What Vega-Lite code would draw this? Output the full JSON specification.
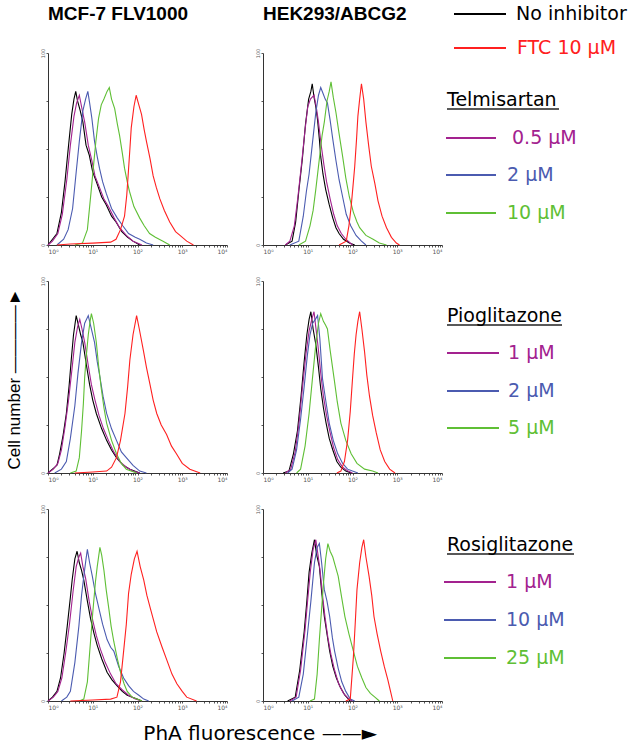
{
  "$schema": "https://vega.github.io/schema/vega-lite/v6.json",
  "padding": 5,
  "background": "white",
  "config": {
    "view": {"stroke": null},
    "axis": {"domainColor": "#333", "tickColor": "#555", "labelColor": "#555", "labelFont": "DejaVu Sans", "domainWidth": 1, "grid": false}
  },
  "spacing": 0,
  "datasets": {
    "hist": [
      {"c":"MCF","g":"T","s":"none","d":0,"n":0},{"c":"MCF","g":"T","s":"none","d":0.1,"n":3},{"c":"MCF","g":"T","s":"none","d":0.2,"n":6},{"c":"MCF","g":"T","s":"none","d":0.3,"n":17},{"c":"MCF","g":"T","s":"none","d":0.38,"n":33},{"c":"MCF","g":"T","s":"none","d":0.46,"n":52},{"c":"MCF","g":"T","s":"none","d":0.53,"n":68},{"c":"MCF","g":"T","s":"none","d":0.58,"n":76},{"c":"MCF","g":"T","s":"none","d":0.62,"n":80},{"c":"MCF","g":"T","s":"none","d":0.66,"n":75},{"c":"MCF","g":"T","s":"none","d":0.72,"n":70},{"c":"MCF","g":"T","s":"none","d":0.78,"n":64},{"c":"MCF","g":"T","s":"none","d":0.85,"n":52},{"c":"MCF","g":"T","s":"none","d":0.92,"n":47},{"c":"MCF","g":"T","s":"none","d":1.0,"n":38},{"c":"MCF","g":"T","s":"none","d":1.08,"n":33},{"c":"MCF","g":"T","s":"none","d":1.2,"n":25},{"c":"MCF","g":"T","s":"none","d":1.3,"n":21},{"c":"MCF","g":"T","s":"none","d":1.42,"n":15},{"c":"MCF","g":"T","s":"none","d":1.52,"n":12},{"c":"MCF","g":"T","s":"none","d":1.65,"n":7},{"c":"MCF","g":"T","s":"none","d":1.78,"n":4},{"c":"MCF","g":"T","s":"none","d":1.9,"n":2},{"c":"MCF","g":"T","s":"none","d":2.05,"n":0},
      {"c":"MCF","g":"T","s":"lo","d":0,"n":0},{"c":"MCF","g":"T","s":"lo","d":0.1,"n":2},{"c":"MCF","g":"T","s":"lo","d":0.22,"n":6},{"c":"MCF","g":"T","s":"lo","d":0.32,"n":16},{"c":"MCF","g":"T","s":"lo","d":0.42,"n":34},{"c":"MCF","g":"T","s":"lo","d":0.5,"n":52},{"c":"MCF","g":"T","s":"lo","d":0.58,"n":67},{"c":"MCF","g":"T","s":"lo","d":0.64,"n":74},{"c":"MCF","g":"T","s":"lo","d":0.7,"n":78},{"c":"MCF","g":"T","s":"lo","d":0.75,"n":72},{"c":"MCF","g":"T","s":"lo","d":0.82,"n":64},{"c":"MCF","g":"T","s":"lo","d":0.9,"n":52},{"c":"MCF","g":"T","s":"lo","d":0.98,"n":44},{"c":"MCF","g":"T","s":"lo","d":1.05,"n":36},{"c":"MCF","g":"T","s":"lo","d":1.15,"n":30},{"c":"MCF","g":"T","s":"lo","d":1.25,"n":24},{"c":"MCF","g":"T","s":"lo","d":1.35,"n":20},{"c":"MCF","g":"T","s":"lo","d":1.48,"n":14},{"c":"MCF","g":"T","s":"lo","d":1.6,"n":9},{"c":"MCF","g":"T","s":"lo","d":1.75,"n":5},{"c":"MCF","g":"T","s":"lo","d":1.9,"n":2},{"c":"MCF","g":"T","s":"lo","d":2.1,"n":0},
      {"c":"MCF","g":"T","s":"mid","d":0.2,"n":0},{"c":"MCF","g":"T","s":"mid","d":0.35,"n":3},{"c":"MCF","g":"T","s":"mid","d":0.45,"n":8},{"c":"MCF","g":"T","s":"mid","d":0.55,"n":19},{"c":"MCF","g":"T","s":"mid","d":0.63,"n":38},{"c":"MCF","g":"T","s":"mid","d":0.7,"n":54},{"c":"MCF","g":"T","s":"mid","d":0.78,"n":70},{"c":"MCF","g":"T","s":"mid","d":0.84,"n":76},{"c":"MCF","g":"T","s":"mid","d":0.89,"n":80},{"c":"MCF","g":"T","s":"mid","d":0.93,"n":74},{"c":"MCF","g":"T","s":"mid","d":0.98,"n":66},{"c":"MCF","g":"T","s":"mid","d":1.04,"n":54},{"c":"MCF","g":"T","s":"mid","d":1.1,"n":46},{"c":"MCF","g":"T","s":"mid","d":1.15,"n":40},{"c":"MCF","g":"T","s":"mid","d":1.22,"n":33},{"c":"MCF","g":"T","s":"mid","d":1.3,"n":27},{"c":"MCF","g":"T","s":"mid","d":1.42,"n":19},{"c":"MCF","g":"T","s":"mid","d":1.55,"n":14},{"c":"MCF","g":"T","s":"mid","d":1.67,"n":10},{"c":"MCF","g":"T","s":"mid","d":1.8,"n":6},{"c":"MCF","g":"T","s":"mid","d":1.95,"n":4},{"c":"MCF","g":"T","s":"mid","d":2.05,"n":3},{"c":"MCF","g":"T","s":"mid","d":2.2,"n":1},{"c":"MCF","g":"T","s":"mid","d":2.35,"n":0},
      {"c":"MCF","g":"T","s":"hi","d":0.6,"n":0},{"c":"MCF","g":"T","s":"hi","d":0.77,"n":1},{"c":"MCF","g":"T","s":"hi","d":0.88,"n":8},{"c":"MCF","g":"T","s":"hi","d":0.96,"n":27},{"c":"MCF","g":"T","s":"hi","d":1.02,"n":42},{"c":"MCF","g":"T","s":"hi","d":1.07,"n":54},{"c":"MCF","g":"T","s":"hi","d":1.13,"n":66},{"c":"MCF","g":"T","s":"hi","d":1.19,"n":73},{"c":"MCF","g":"T","s":"hi","d":1.25,"n":76},{"c":"MCF","g":"T","s":"hi","d":1.32,"n":80},{"c":"MCF","g":"T","s":"hi","d":1.37,"n":82},{"c":"MCF","g":"T","s":"hi","d":1.42,"n":76},{"c":"MCF","g":"T","s":"hi","d":1.49,"n":71},{"c":"MCF","g":"T","s":"hi","d":1.55,"n":63},{"c":"MCF","g":"T","s":"hi","d":1.6,"n":57},{"c":"MCF","g":"T","s":"hi","d":1.66,"n":48},{"c":"MCF","g":"T","s":"hi","d":1.71,"n":40},{"c":"MCF","g":"T","s":"hi","d":1.77,"n":33},{"c":"MCF","g":"T","s":"hi","d":1.82,"n":28},{"c":"MCF","g":"T","s":"hi","d":1.92,"n":20},{"c":"MCF","g":"T","s":"hi","d":2.05,"n":14},{"c":"MCF","g":"T","s":"hi","d":2.15,"n":10},{"c":"MCF","g":"T","s":"hi","d":2.27,"n":6},{"c":"MCF","g":"T","s":"hi","d":2.4,"n":4},{"c":"MCF","g":"T","s":"hi","d":2.57,"n":2},{"c":"MCF","g":"T","s":"hi","d":2.72,"n":0},
      {"c":"MCF","g":"T","s":"ftc","d":0.2,"n":0},{"c":"MCF","g":"T","s":"ftc","d":0.5,"n":0.5},{"c":"MCF","g":"T","s":"ftc","d":1.0,"n":1},{"c":"MCF","g":"T","s":"ftc","d":1.4,"n":1.5},{"c":"MCF","g":"T","s":"ftc","d":1.52,"n":3},{"c":"MCF","g":"T","s":"ftc","d":1.62,"n":8},{"c":"MCF","g":"T","s":"ftc","d":1.71,"n":15},{"c":"MCF","g":"T","s":"ftc","d":1.76,"n":26},{"c":"MCF","g":"T","s":"ftc","d":1.79,"n":36},{"c":"MCF","g":"T","s":"ftc","d":1.83,"n":50},{"c":"MCF","g":"T","s":"ftc","d":1.86,"n":61},{"c":"MCF","g":"T","s":"ftc","d":1.92,"n":72},{"c":"MCF","g":"T","s":"ftc","d":1.97,"n":78},{"c":"MCF","g":"T","s":"ftc","d":2.03,"n":73},{"c":"MCF","g":"T","s":"ftc","d":2.09,"n":68},{"c":"MCF","g":"T","s":"ftc","d":2.15,"n":60},{"c":"MCF","g":"T","s":"ftc","d":2.2,"n":54},{"c":"MCF","g":"T","s":"ftc","d":2.28,"n":45},{"c":"MCF","g":"T","s":"ftc","d":2.35,"n":36},{"c":"MCF","g":"T","s":"ftc","d":2.42,"n":30},{"c":"MCF","g":"T","s":"ftc","d":2.5,"n":24},{"c":"MCF","g":"T","s":"ftc","d":2.6,"n":18},{"c":"MCF","g":"T","s":"ftc","d":2.72,"n":12},{"c":"MCF","g":"T","s":"ftc","d":2.85,"n":7},{"c":"MCF","g":"T","s":"ftc","d":2.95,"n":5},{"c":"MCF","g":"T","s":"ftc","d":3.1,"n":2},{"c":"MCF","g":"T","s":"ftc","d":3.25,"n":0},

      {"c":"HEK","g":"T","s":"none","d":0.5,"n":0},{"c":"HEK","g":"T","s":"none","d":0.65,"n":2},{"c":"HEK","g":"T","s":"none","d":0.73,"n":12},{"c":"HEK","g":"T","s":"none","d":0.8,"n":28},{"c":"HEK","g":"T","s":"none","d":0.88,"n":45},{"c":"HEK","g":"T","s":"none","d":0.95,"n":63},{"c":"HEK","g":"T","s":"none","d":1.02,"n":76},{"c":"HEK","g":"T","s":"none","d":1.07,"n":80},{"c":"HEK","g":"T","s":"none","d":1.1,"n":84},{"c":"HEK","g":"T","s":"none","d":1.14,"n":77},{"c":"HEK","g":"T","s":"none","d":1.18,"n":72},{"c":"HEK","g":"T","s":"none","d":1.22,"n":65},{"c":"HEK","g":"T","s":"none","d":1.26,"n":55},{"c":"HEK","g":"T","s":"none","d":1.29,"n":46},{"c":"HEK","g":"T","s":"none","d":1.34,"n":37},{"c":"HEK","g":"T","s":"none","d":1.4,"n":29},{"c":"HEK","g":"T","s":"none","d":1.48,"n":21},{"c":"HEK","g":"T","s":"none","d":1.56,"n":14},{"c":"HEK","g":"T","s":"none","d":1.63,"n":9},{"c":"HEK","g":"T","s":"none","d":1.7,"n":6},{"c":"HEK","g":"T","s":"none","d":1.8,"n":3},{"c":"HEK","g":"T","s":"none","d":1.93,"n":1},{"c":"HEK","g":"T","s":"none","d":2.05,"n":0},
      {"c":"HEK","g":"T","s":"lo","d":0.5,"n":0},{"c":"HEK","g":"T","s":"lo","d":0.6,"n":2},{"c":"HEK","g":"T","s":"lo","d":0.7,"n":10},{"c":"HEK","g":"T","s":"lo","d":0.78,"n":25},{"c":"HEK","g":"T","s":"lo","d":0.86,"n":42},{"c":"HEK","g":"T","s":"lo","d":0.94,"n":60},{"c":"HEK","g":"T","s":"lo","d":1.0,"n":72},{"c":"HEK","g":"T","s":"lo","d":1.06,"n":76},{"c":"HEK","g":"T","s":"lo","d":1.14,"n":78},{"c":"HEK","g":"T","s":"lo","d":1.19,"n":72},{"c":"HEK","g":"T","s":"lo","d":1.24,"n":64},{"c":"HEK","g":"T","s":"lo","d":1.3,"n":52},{"c":"HEK","g":"T","s":"lo","d":1.36,"n":42},{"c":"HEK","g":"T","s":"lo","d":1.42,"n":33},{"c":"HEK","g":"T","s":"lo","d":1.5,"n":24},{"c":"HEK","g":"T","s":"lo","d":1.58,"n":16},{"c":"HEK","g":"T","s":"lo","d":1.66,"n":10},{"c":"HEK","g":"T","s":"lo","d":1.75,"n":6},{"c":"HEK","g":"T","s":"lo","d":1.85,"n":3},{"c":"HEK","g":"T","s":"lo","d":2.0,"n":0},
      {"c":"HEK","g":"T","s":"mid","d":0.6,"n":0},{"c":"HEK","g":"T","s":"mid","d":0.8,"n":2},{"c":"HEK","g":"T","s":"mid","d":0.9,"n":15},{"c":"HEK","g":"T","s":"mid","d":0.97,"n":28},{"c":"HEK","g":"T","s":"mid","d":1.03,"n":37},{"c":"HEK","g":"T","s":"mid","d":1.1,"n":52},{"c":"HEK","g":"T","s":"mid","d":1.18,"n":69},{"c":"HEK","g":"T","s":"mid","d":1.24,"n":78},{"c":"HEK","g":"T","s":"mid","d":1.29,"n":82},{"c":"HEK","g":"T","s":"mid","d":1.34,"n":79},{"c":"HEK","g":"T","s":"mid","d":1.39,"n":76},{"c":"HEK","g":"T","s":"mid","d":1.44,"n":74},{"c":"HEK","g":"T","s":"mid","d":1.5,"n":65},{"c":"HEK","g":"T","s":"mid","d":1.56,"n":55},{"c":"HEK","g":"T","s":"mid","d":1.63,"n":44},{"c":"HEK","g":"T","s":"mid","d":1.7,"n":34},{"c":"HEK","g":"T","s":"mid","d":1.78,"n":25},{"c":"HEK","g":"T","s":"mid","d":1.86,"n":16},{"c":"HEK","g":"T","s":"mid","d":1.96,"n":10},{"c":"HEK","g":"T","s":"mid","d":2.08,"n":5},{"c":"HEK","g":"T","s":"mid","d":2.2,"n":2},{"c":"HEK","g":"T","s":"mid","d":2.3,"n":0},
      {"c":"HEK","g":"T","s":"hi","d":0.8,"n":0},{"c":"HEK","g":"T","s":"hi","d":0.95,"n":2},{"c":"HEK","g":"T","s":"hi","d":1.05,"n":10},{"c":"HEK","g":"T","s":"hi","d":1.12,"n":18},{"c":"HEK","g":"T","s":"hi","d":1.18,"n":29},{"c":"HEK","g":"T","s":"hi","d":1.26,"n":45},{"c":"HEK","g":"T","s":"hi","d":1.32,"n":57},{"c":"HEK","g":"T","s":"hi","d":1.37,"n":64},{"c":"HEK","g":"T","s":"hi","d":1.43,"n":75},{"c":"HEK","g":"T","s":"hi","d":1.48,"n":80},{"c":"HEK","g":"T","s":"hi","d":1.52,"n":85},{"c":"HEK","g":"T","s":"hi","d":1.57,"n":77},{"c":"HEK","g":"T","s":"hi","d":1.63,"n":69},{"c":"HEK","g":"T","s":"hi","d":1.7,"n":58},{"c":"HEK","g":"T","s":"hi","d":1.78,"n":46},{"c":"HEK","g":"T","s":"hi","d":1.85,"n":35},{"c":"HEK","g":"T","s":"hi","d":1.93,"n":25},{"c":"HEK","g":"T","s":"hi","d":2.02,"n":17},{"c":"HEK","g":"T","s":"hi","d":2.1,"n":12},{"c":"HEK","g":"T","s":"hi","d":2.16,"n":9},{"c":"HEK","g":"T","s":"hi","d":2.3,"n":5},{"c":"HEK","g":"T","s":"hi","d":2.46,"n":3},{"c":"HEK","g":"T","s":"hi","d":2.6,"n":1},{"c":"HEK","g":"T","s":"hi","d":2.76,"n":0},
      {"c":"HEK","g":"T","s":"ftc","d":1.7,"n":0},{"c":"HEK","g":"T","s":"ftc","d":1.86,"n":2},{"c":"HEK","g":"T","s":"ftc","d":1.92,"n":10},{"c":"HEK","g":"T","s":"ftc","d":1.97,"n":20},{"c":"HEK","g":"T","s":"ftc","d":2.02,"n":33},{"c":"HEK","g":"T","s":"ftc","d":2.05,"n":41},{"c":"HEK","g":"T","s":"ftc","d":2.09,"n":55},{"c":"HEK","g":"T","s":"ftc","d":2.12,"n":67},{"c":"HEK","g":"T","s":"ftc","d":2.16,"n":76},{"c":"HEK","g":"T","s":"ftc","d":2.2,"n":84},{"c":"HEK","g":"T","s":"ftc","d":2.25,"n":76},{"c":"HEK","g":"T","s":"ftc","d":2.3,"n":64},{"c":"HEK","g":"T","s":"ftc","d":2.36,"n":52},{"c":"HEK","g":"T","s":"ftc","d":2.42,"n":41},{"c":"HEK","g":"T","s":"ftc","d":2.5,"n":32},{"c":"HEK","g":"T","s":"ftc","d":2.57,"n":23},{"c":"HEK","g":"T","s":"ftc","d":2.66,"n":15},{"c":"HEK","g":"T","s":"ftc","d":2.76,"n":9},{"c":"HEK","g":"T","s":"ftc","d":2.87,"n":4},{"c":"HEK","g":"T","s":"ftc","d":2.98,"n":1},{"c":"HEK","g":"T","s":"ftc","d":3.05,"n":0},

      {"c":"MCF","g":"P","s":"none","d":0,"n":0},{"c":"MCF","g":"P","s":"none","d":0.1,"n":2},{"c":"MCF","g":"P","s":"none","d":0.2,"n":4},{"c":"MCF","g":"P","s":"none","d":0.26,"n":10},{"c":"MCF","g":"P","s":"none","d":0.34,"n":20},{"c":"MCF","g":"P","s":"none","d":0.41,"n":31},{"c":"MCF","g":"P","s":"none","d":0.47,"n":45},{"c":"MCF","g":"P","s":"none","d":0.52,"n":59},{"c":"MCF","g":"P","s":"none","d":0.57,"n":72},{"c":"MCF","g":"P","s":"none","d":0.63,"n":82},{"c":"MCF","g":"P","s":"none","d":0.68,"n":77},{"c":"MCF","g":"P","s":"none","d":0.73,"n":72},{"c":"MCF","g":"P","s":"none","d":0.78,"n":68},{"c":"MCF","g":"P","s":"none","d":0.86,"n":56},{"c":"MCF","g":"P","s":"none","d":0.93,"n":46},{"c":"MCF","g":"P","s":"none","d":1.0,"n":38},{"c":"MCF","g":"P","s":"none","d":1.08,"n":31},{"c":"MCF","g":"P","s":"none","d":1.2,"n":23},{"c":"MCF","g":"P","s":"none","d":1.31,"n":17},{"c":"MCF","g":"P","s":"none","d":1.42,"n":12},{"c":"MCF","g":"P","s":"none","d":1.53,"n":8},{"c":"MCF","g":"P","s":"none","d":1.68,"n":4},{"c":"MCF","g":"P","s":"none","d":1.83,"n":2},{"c":"MCF","g":"P","s":"none","d":2.05,"n":0},
      {"c":"MCF","g":"P","s":"lo","d":0,"n":0},{"c":"MCF","g":"P","s":"lo","d":0.12,"n":2},{"c":"MCF","g":"P","s":"lo","d":0.22,"n":5},{"c":"MCF","g":"P","s":"lo","d":0.3,"n":12},{"c":"MCF","g":"P","s":"lo","d":0.38,"n":24},{"c":"MCF","g":"P","s":"lo","d":0.46,"n":38},{"c":"MCF","g":"P","s":"lo","d":0.54,"n":55},{"c":"MCF","g":"P","s":"lo","d":0.6,"n":68},{"c":"MCF","g":"P","s":"lo","d":0.66,"n":76},{"c":"MCF","g":"P","s":"lo","d":0.71,"n":80},{"c":"MCF","g":"P","s":"lo","d":0.76,"n":75},{"c":"MCF","g":"P","s":"lo","d":0.82,"n":68},{"c":"MCF","g":"P","s":"lo","d":0.9,"n":56},{"c":"MCF","g":"P","s":"lo","d":0.97,"n":46},{"c":"MCF","g":"P","s":"lo","d":1.05,"n":38},{"c":"MCF","g":"P","s":"lo","d":1.14,"n":30},{"c":"MCF","g":"P","s":"lo","d":1.24,"n":23},{"c":"MCF","g":"P","s":"lo","d":1.35,"n":17},{"c":"MCF","g":"P","s":"lo","d":1.47,"n":11},{"c":"MCF","g":"P","s":"lo","d":1.6,"n":6},{"c":"MCF","g":"P","s":"lo","d":1.75,"n":3},{"c":"MCF","g":"P","s":"lo","d":1.9,"n":1},{"c":"MCF","g":"P","s":"lo","d":2.05,"n":0},
      {"c":"MCF","g":"P","s":"mid","d":0.15,"n":0},{"c":"MCF","g":"P","s":"mid","d":0.3,"n":2},{"c":"MCF","g":"P","s":"mid","d":0.41,"n":6},{"c":"MCF","g":"P","s":"mid","d":0.5,"n":18},{"c":"MCF","g":"P","s":"mid","d":0.6,"n":35},{"c":"MCF","g":"P","s":"mid","d":0.67,"n":52},{"c":"MCF","g":"P","s":"mid","d":0.75,"n":68},{"c":"MCF","g":"P","s":"mid","d":0.82,"n":78},{"c":"MCF","g":"P","s":"mid","d":0.9,"n":82},{"c":"MCF","g":"P","s":"mid","d":0.96,"n":76},{"c":"MCF","g":"P","s":"mid","d":1.04,"n":68},{"c":"MCF","g":"P","s":"mid","d":1.1,"n":58},{"c":"MCF","g":"P","s":"mid","d":1.16,"n":50},{"c":"MCF","g":"P","s":"mid","d":1.23,"n":40},{"c":"MCF","g":"P","s":"mid","d":1.31,"n":31},{"c":"MCF","g":"P","s":"mid","d":1.42,"n":23},{"c":"MCF","g":"P","s":"mid","d":1.53,"n":17},{"c":"MCF","g":"P","s":"mid","d":1.64,"n":11},{"c":"MCF","g":"P","s":"mid","d":1.75,"n":8},{"c":"MCF","g":"P","s":"mid","d":1.9,"n":4},{"c":"MCF","g":"P","s":"mid","d":2.05,"n":1},{"c":"MCF","g":"P","s":"mid","d":2.2,"n":0},
      {"c":"MCF","g":"P","s":"hi","d":0.5,"n":0},{"c":"MCF","g":"P","s":"hi","d":0.63,"n":1},{"c":"MCF","g":"P","s":"hi","d":0.7,"n":8},{"c":"MCF","g":"P","s":"hi","d":0.75,"n":22},{"c":"MCF","g":"P","s":"hi","d":0.79,"n":36},{"c":"MCF","g":"P","s":"hi","d":0.82,"n":50},{"c":"MCF","g":"P","s":"hi","d":0.86,"n":62},{"c":"MCF","g":"P","s":"hi","d":0.9,"n":72},{"c":"MCF","g":"P","s":"hi","d":0.94,"n":79},{"c":"MCF","g":"P","s":"hi","d":0.97,"n":83},{"c":"MCF","g":"P","s":"hi","d":1.02,"n":78},{"c":"MCF","g":"P","s":"hi","d":1.08,"n":68},{"c":"MCF","g":"P","s":"hi","d":1.13,"n":56},{"c":"MCF","g":"P","s":"hi","d":1.19,"n":44},{"c":"MCF","g":"P","s":"hi","d":1.25,"n":34},{"c":"MCF","g":"P","s":"hi","d":1.31,"n":26},{"c":"MCF","g":"P","s":"hi","d":1.42,"n":17},{"c":"MCF","g":"P","s":"hi","d":1.53,"n":10},{"c":"MCF","g":"P","s":"hi","d":1.64,"n":5},{"c":"MCF","g":"P","s":"hi","d":1.75,"n":2},{"c":"MCF","g":"P","s":"hi","d":1.98,"n":0},
      {"c":"MCF","g":"P","s":"ftc","d":0.6,"n":0},{"c":"MCF","g":"P","s":"ftc","d":1.0,"n":0.5},{"c":"MCF","g":"P","s":"ftc","d":1.31,"n":1},{"c":"MCF","g":"P","s":"ftc","d":1.42,"n":3},{"c":"MCF","g":"P","s":"ftc","d":1.53,"n":8},{"c":"MCF","g":"P","s":"ftc","d":1.62,"n":17},{"c":"MCF","g":"P","s":"ftc","d":1.72,"n":31},{"c":"MCF","g":"P","s":"ftc","d":1.78,"n":45},{"c":"MCF","g":"P","s":"ftc","d":1.83,"n":59},{"c":"MCF","g":"P","s":"ftc","d":1.9,"n":72},{"c":"MCF","g":"P","s":"ftc","d":1.98,"n":82},{"c":"MCF","g":"P","s":"ftc","d":2.04,"n":75},{"c":"MCF","g":"P","s":"ftc","d":2.13,"n":64},{"c":"MCF","g":"P","s":"ftc","d":2.2,"n":55},{"c":"MCF","g":"P","s":"ftc","d":2.28,"n":46},{"c":"MCF","g":"P","s":"ftc","d":2.35,"n":38},{"c":"MCF","g":"P","s":"ftc","d":2.43,"n":31},{"c":"MCF","g":"P","s":"ftc","d":2.53,"n":25},{"c":"MCF","g":"P","s":"ftc","d":2.65,"n":20},{"c":"MCF","g":"P","s":"ftc","d":2.76,"n":14},{"c":"MCF","g":"P","s":"ftc","d":2.87,"n":10},{"c":"MCF","g":"P","s":"ftc","d":3.0,"n":5},{"c":"MCF","g":"P","s":"ftc","d":3.17,"n":2},{"c":"MCF","g":"P","s":"ftc","d":3.4,"n":0},

      {"c":"HEK","g":"P","s":"none","d":0.45,"n":0},{"c":"HEK","g":"P","s":"none","d":0.58,"n":1},{"c":"HEK","g":"P","s":"none","d":0.68,"n":10},{"c":"HEK","g":"P","s":"none","d":0.77,"n":22},{"c":"HEK","g":"P","s":"none","d":0.85,"n":40},{"c":"HEK","g":"P","s":"none","d":0.92,"n":58},{"c":"HEK","g":"P","s":"none","d":0.98,"n":72},{"c":"HEK","g":"P","s":"none","d":1.03,"n":80},{"c":"HEK","g":"P","s":"none","d":1.07,"n":84},{"c":"HEK","g":"P","s":"none","d":1.12,"n":75},{"c":"HEK","g":"P","s":"none","d":1.18,"n":67},{"c":"HEK","g":"P","s":"none","d":1.24,"n":55},{"c":"HEK","g":"P","s":"none","d":1.29,"n":44},{"c":"HEK","g":"P","s":"none","d":1.35,"n":34},{"c":"HEK","g":"P","s":"none","d":1.41,"n":26},{"c":"HEK","g":"P","s":"none","d":1.48,"n":18},{"c":"HEK","g":"P","s":"none","d":1.56,"n":12},{"c":"HEK","g":"P","s":"none","d":1.65,"n":6},{"c":"HEK","g":"P","s":"none","d":1.74,"n":3},{"c":"HEK","g":"P","s":"none","d":1.85,"n":1},{"c":"HEK","g":"P","s":"none","d":1.97,"n":0},
      {"c":"HEK","g":"P","s":"lo","d":0.5,"n":0},{"c":"HEK","g":"P","s":"lo","d":0.62,"n":2},{"c":"HEK","g":"P","s":"lo","d":0.72,"n":11},{"c":"HEK","g":"P","s":"lo","d":0.8,"n":25},{"c":"HEK","g":"P","s":"lo","d":0.88,"n":44},{"c":"HEK","g":"P","s":"lo","d":0.96,"n":62},{"c":"HEK","g":"P","s":"lo","d":1.03,"n":74},{"c":"HEK","g":"P","s":"lo","d":1.09,"n":80},{"c":"HEK","g":"P","s":"lo","d":1.14,"n":84},{"c":"HEK","g":"P","s":"lo","d":1.18,"n":76},{"c":"HEK","g":"P","s":"lo","d":1.23,"n":66},{"c":"HEK","g":"P","s":"lo","d":1.29,"n":52},{"c":"HEK","g":"P","s":"lo","d":1.35,"n":40},{"c":"HEK","g":"P","s":"lo","d":1.42,"n":30},{"c":"HEK","g":"P","s":"lo","d":1.5,"n":21},{"c":"HEK","g":"P","s":"lo","d":1.58,"n":13},{"c":"HEK","g":"P","s":"lo","d":1.67,"n":7},{"c":"HEK","g":"P","s":"lo","d":1.78,"n":3},{"c":"HEK","g":"P","s":"lo","d":1.9,"n":1},{"c":"HEK","g":"P","s":"lo","d":2.0,"n":0},
      {"c":"HEK","g":"P","s":"mid","d":0.55,"n":0},{"c":"HEK","g":"P","s":"mid","d":0.65,"n":2},{"c":"HEK","g":"P","s":"mid","d":0.75,"n":12},{"c":"HEK","g":"P","s":"mid","d":0.84,"n":28},{"c":"HEK","g":"P","s":"mid","d":0.92,"n":45},{"c":"HEK","g":"P","s":"mid","d":0.99,"n":61},{"c":"HEK","g":"P","s":"mid","d":1.05,"n":72},{"c":"HEK","g":"P","s":"mid","d":1.11,"n":78},{"c":"HEK","g":"P","s":"mid","d":1.17,"n":80},{"c":"HEK","g":"P","s":"mid","d":1.22,"n":82},{"c":"HEK","g":"P","s":"mid","d":1.27,"n":70},{"c":"HEK","g":"P","s":"mid","d":1.33,"n":49},{"c":"HEK","g":"P","s":"mid","d":1.4,"n":38},{"c":"HEK","g":"P","s":"mid","d":1.48,"n":26},{"c":"HEK","g":"P","s":"mid","d":1.57,"n":17},{"c":"HEK","g":"P","s":"mid","d":1.67,"n":10},{"c":"HEK","g":"P","s":"mid","d":1.78,"n":5},{"c":"HEK","g":"P","s":"mid","d":1.89,"n":2},{"c":"HEK","g":"P","s":"mid","d":2.0,"n":1},{"c":"HEK","g":"P","s":"mid","d":2.12,"n":0},
      {"c":"HEK","g":"P","s":"hi","d":0.75,"n":0},{"c":"HEK","g":"P","s":"hi","d":0.84,"n":2},{"c":"HEK","g":"P","s":"hi","d":0.94,"n":14},{"c":"HEK","g":"P","s":"hi","d":1.03,"n":31},{"c":"HEK","g":"P","s":"hi","d":1.1,"n":48},{"c":"HEK","g":"P","s":"hi","d":1.18,"n":67},{"c":"HEK","g":"P","s":"hi","d":1.24,"n":78},{"c":"HEK","g":"P","s":"hi","d":1.29,"n":83},{"c":"HEK","g":"P","s":"hi","d":1.35,"n":79},{"c":"HEK","g":"P","s":"hi","d":1.4,"n":77},{"c":"HEK","g":"P","s":"hi","d":1.44,"n":75},{"c":"HEK","g":"P","s":"hi","d":1.5,"n":64},{"c":"HEK","g":"P","s":"hi","d":1.59,"n":49},{"c":"HEK","g":"P","s":"hi","d":1.66,"n":37},{"c":"HEK","g":"P","s":"hi","d":1.74,"n":26},{"c":"HEK","g":"P","s":"hi","d":1.85,"n":17},{"c":"HEK","g":"P","s":"hi","d":1.97,"n":10},{"c":"HEK","g":"P","s":"hi","d":2.1,"n":5},{"c":"HEK","g":"P","s":"hi","d":2.27,"n":2},{"c":"HEK","g":"P","s":"hi","d":2.45,"n":1},{"c":"HEK","g":"P","s":"hi","d":2.57,"n":0},
      {"c":"HEK","g":"P","s":"ftc","d":1.65,"n":0},{"c":"HEK","g":"P","s":"ftc","d":1.74,"n":1},{"c":"HEK","g":"P","s":"ftc","d":1.82,"n":6},{"c":"HEK","g":"P","s":"ftc","d":1.89,"n":17},{"c":"HEK","g":"P","s":"ftc","d":1.95,"n":32},{"c":"HEK","g":"P","s":"ftc","d":2.0,"n":49},{"c":"HEK","g":"P","s":"ftc","d":2.04,"n":62},{"c":"HEK","g":"P","s":"ftc","d":2.08,"n":72},{"c":"HEK","g":"P","s":"ftc","d":2.12,"n":79},{"c":"HEK","g":"P","s":"ftc","d":2.16,"n":84},{"c":"HEK","g":"P","s":"ftc","d":2.21,"n":75},{"c":"HEK","g":"P","s":"ftc","d":2.27,"n":63},{"c":"HEK","g":"P","s":"ftc","d":2.32,"n":51},{"c":"HEK","g":"P","s":"ftc","d":2.38,"n":40},{"c":"HEK","g":"P","s":"ftc","d":2.45,"n":30},{"c":"HEK","g":"P","s":"ftc","d":2.53,"n":21},{"c":"HEK","g":"P","s":"ftc","d":2.62,"n":12},{"c":"HEK","g":"P","s":"ftc","d":2.72,"n":6},{"c":"HEK","g":"P","s":"ftc","d":2.83,"n":2},{"c":"HEK","g":"P","s":"ftc","d":2.95,"n":0},

      {"c":"MCF","g":"R","s":"none","d":0,"n":0},{"c":"MCF","g":"R","s":"none","d":0.1,"n":2},{"c":"MCF","g":"R","s":"none","d":0.2,"n":5},{"c":"MCF","g":"R","s":"none","d":0.28,"n":12},{"c":"MCF","g":"R","s":"none","d":0.36,"n":25},{"c":"MCF","g":"R","s":"none","d":0.43,"n":39},{"c":"MCF","g":"R","s":"none","d":0.5,"n":54},{"c":"MCF","g":"R","s":"none","d":0.54,"n":63},{"c":"MCF","g":"R","s":"none","d":0.6,"n":74},{"c":"MCF","g":"R","s":"none","d":0.65,"n":78},{"c":"MCF","g":"R","s":"none","d":0.7,"n":72},{"c":"MCF","g":"R","s":"none","d":0.75,"n":68},{"c":"MCF","g":"R","s":"none","d":0.8,"n":63},{"c":"MCF","g":"R","s":"none","d":0.88,"n":52},{"c":"MCF","g":"R","s":"none","d":0.95,"n":43},{"c":"MCF","g":"R","s":"none","d":1.03,"n":35},{"c":"MCF","g":"R","s":"none","d":1.1,"n":29},{"c":"MCF","g":"R","s":"none","d":1.2,"n":22},{"c":"MCF","g":"R","s":"none","d":1.32,"n":15},{"c":"MCF","g":"R","s":"none","d":1.43,"n":11},{"c":"MCF","g":"R","s":"none","d":1.54,"n":8},{"c":"MCF","g":"R","s":"none","d":1.66,"n":5},{"c":"MCF","g":"R","s":"none","d":1.77,"n":3},{"c":"MCF","g":"R","s":"none","d":1.99,"n":1},{"c":"MCF","g":"R","s":"none","d":2.1,"n":0},
      {"c":"MCF","g":"R","s":"lo","d":0,"n":0},{"c":"MCF","g":"R","s":"lo","d":0.12,"n":2},{"c":"MCF","g":"R","s":"lo","d":0.22,"n":5},{"c":"MCF","g":"R","s":"lo","d":0.31,"n":12},{"c":"MCF","g":"R","s":"lo","d":0.4,"n":26},{"c":"MCF","g":"R","s":"lo","d":0.48,"n":40},{"c":"MCF","g":"R","s":"lo","d":0.56,"n":57},{"c":"MCF","g":"R","s":"lo","d":0.63,"n":70},{"c":"MCF","g":"R","s":"lo","d":0.69,"n":75},{"c":"MCF","g":"R","s":"lo","d":0.73,"n":77},{"c":"MCF","g":"R","s":"lo","d":0.78,"n":70},{"c":"MCF","g":"R","s":"lo","d":0.84,"n":64},{"c":"MCF","g":"R","s":"lo","d":0.92,"n":52},{"c":"MCF","g":"R","s":"lo","d":1.0,"n":42},{"c":"MCF","g":"R","s":"lo","d":1.08,"n":34},{"c":"MCF","g":"R","s":"lo","d":1.17,"n":27},{"c":"MCF","g":"R","s":"lo","d":1.28,"n":20},{"c":"MCF","g":"R","s":"lo","d":1.4,"n":14},{"c":"MCF","g":"R","s":"lo","d":1.52,"n":9},{"c":"MCF","g":"R","s":"lo","d":1.65,"n":6},{"c":"MCF","g":"R","s":"lo","d":1.8,"n":3},{"c":"MCF","g":"R","s":"lo","d":1.95,"n":1},{"c":"MCF","g":"R","s":"lo","d":2.1,"n":0},
      {"c":"MCF","g":"R","s":"mid","d":0.3,"n":0},{"c":"MCF","g":"R","s":"mid","d":0.42,"n":2},{"c":"MCF","g":"R","s":"mid","d":0.5,"n":5},{"c":"MCF","g":"R","s":"mid","d":0.6,"n":20},{"c":"MCF","g":"R","s":"mid","d":0.69,"n":39},{"c":"MCF","g":"R","s":"mid","d":0.75,"n":55},{"c":"MCF","g":"R","s":"mid","d":0.8,"n":65},{"c":"MCF","g":"R","s":"mid","d":0.85,"n":74},{"c":"MCF","g":"R","s":"mid","d":0.88,"n":79},{"c":"MCF","g":"R","s":"mid","d":0.93,"n":72},{"c":"MCF","g":"R","s":"mid","d":0.99,"n":65},{"c":"MCF","g":"R","s":"mid","d":1.06,"n":56},{"c":"MCF","g":"R","s":"mid","d":1.14,"n":48},{"c":"MCF","g":"R","s":"mid","d":1.22,"n":40},{"c":"MCF","g":"R","s":"mid","d":1.32,"n":32},{"c":"MCF","g":"R","s":"mid","d":1.4,"n":28},{"c":"MCF","g":"R","s":"mid","d":1.47,"n":26},{"c":"MCF","g":"R","s":"mid","d":1.58,"n":18},{"c":"MCF","g":"R","s":"mid","d":1.69,"n":12},{"c":"MCF","g":"R","s":"mid","d":1.8,"n":8},{"c":"MCF","g":"R","s":"mid","d":1.91,"n":5},{"c":"MCF","g":"R","s":"mid","d":2.03,"n":3},{"c":"MCF","g":"R","s":"mid","d":2.14,"n":1},{"c":"MCF","g":"R","s":"mid","d":2.25,"n":0},
      {"c":"MCF","g":"R","s":"hi","d":0.7,"n":0},{"c":"MCF","g":"R","s":"hi","d":0.8,"n":1},{"c":"MCF","g":"R","s":"hi","d":0.88,"n":10},{"c":"MCF","g":"R","s":"hi","d":0.95,"n":31},{"c":"MCF","g":"R","s":"hi","d":1.0,"n":46},{"c":"MCF","g":"R","s":"hi","d":1.06,"n":62},{"c":"MCF","g":"R","s":"hi","d":1.1,"n":70},{"c":"MCF","g":"R","s":"hi","d":1.16,"n":80},{"c":"MCF","g":"R","s":"hi","d":1.2,"n":76},{"c":"MCF","g":"R","s":"hi","d":1.25,"n":68},{"c":"MCF","g":"R","s":"hi","d":1.3,"n":58},{"c":"MCF","g":"R","s":"hi","d":1.36,"n":48},{"c":"MCF","g":"R","s":"hi","d":1.41,"n":39},{"c":"MCF","g":"R","s":"hi","d":1.47,"n":31},{"c":"MCF","g":"R","s":"hi","d":1.55,"n":22},{"c":"MCF","g":"R","s":"hi","d":1.62,"n":15},{"c":"MCF","g":"R","s":"hi","d":1.7,"n":9},{"c":"MCF","g":"R","s":"hi","d":1.77,"n":5},{"c":"MCF","g":"R","s":"hi","d":1.88,"n":2},{"c":"MCF","g":"R","s":"hi","d":1.99,"n":1},{"c":"MCF","g":"R","s":"hi","d":2.1,"n":0},
      {"c":"MCF","g":"R","s":"ftc","d":0.5,"n":0},{"c":"MCF","g":"R","s":"ftc","d":1.0,"n":0.5},{"c":"MCF","g":"R","s":"ftc","d":1.4,"n":1},{"c":"MCF","g":"R","s":"ftc","d":1.54,"n":2},{"c":"MCF","g":"R","s":"ftc","d":1.62,"n":10},{"c":"MCF","g":"R","s":"ftc","d":1.69,"n":26},{"c":"MCF","g":"R","s":"ftc","d":1.75,"n":40},{"c":"MCF","g":"R","s":"ftc","d":1.8,"n":56},{"c":"MCF","g":"R","s":"ftc","d":1.86,"n":66},{"c":"MCF","g":"R","s":"ftc","d":1.93,"n":74},{"c":"MCF","g":"R","s":"ftc","d":1.99,"n":78},{"c":"MCF","g":"R","s":"ftc","d":2.06,"n":70},{"c":"MCF","g":"R","s":"ftc","d":2.14,"n":63},{"c":"MCF","g":"R","s":"ftc","d":2.21,"n":55},{"c":"MCF","g":"R","s":"ftc","d":2.29,"n":48},{"c":"MCF","g":"R","s":"ftc","d":2.36,"n":42},{"c":"MCF","g":"R","s":"ftc","d":2.43,"n":36},{"c":"MCF","g":"R","s":"ftc","d":2.55,"n":28},{"c":"MCF","g":"R","s":"ftc","d":2.66,"n":21},{"c":"MCF","g":"R","s":"ftc","d":2.77,"n":14},{"c":"MCF","g":"R","s":"ftc","d":2.88,"n":9},{"c":"MCF","g":"R","s":"ftc","d":3.0,"n":5},{"c":"MCF","g":"R","s":"ftc","d":3.1,"n":2},{"c":"MCF","g":"R","s":"ftc","d":3.32,"n":0},

      {"c":"HEK","g":"R","s":"none","d":0.55,"n":0},{"c":"HEK","g":"R","s":"none","d":0.72,"n":2},{"c":"HEK","g":"R","s":"none","d":0.82,"n":16},{"c":"HEK","g":"R","s":"none","d":0.92,"n":36},{"c":"HEK","g":"R","s":"none","d":0.98,"n":52},{"c":"HEK","g":"R","s":"none","d":1.03,"n":67},{"c":"HEK","g":"R","s":"none","d":1.09,"n":77},{"c":"HEK","g":"R","s":"none","d":1.15,"n":84},{"c":"HEK","g":"R","s":"none","d":1.2,"n":76},{"c":"HEK","g":"R","s":"none","d":1.26,"n":70},{"c":"HEK","g":"R","s":"none","d":1.31,"n":57},{"c":"HEK","g":"R","s":"none","d":1.37,"n":44},{"c":"HEK","g":"R","s":"none","d":1.43,"n":35},{"c":"HEK","g":"R","s":"none","d":1.49,"n":26},{"c":"HEK","g":"R","s":"none","d":1.56,"n":18},{"c":"HEK","g":"R","s":"none","d":1.64,"n":12},{"c":"HEK","g":"R","s":"none","d":1.73,"n":7},{"c":"HEK","g":"R","s":"none","d":1.83,"n":3},{"c":"HEK","g":"R","s":"none","d":1.95,"n":0},
      {"c":"HEK","g":"R","s":"lo","d":0.6,"n":0},{"c":"HEK","g":"R","s":"lo","d":0.74,"n":2},{"c":"HEK","g":"R","s":"lo","d":0.84,"n":16},{"c":"HEK","g":"R","s":"lo","d":0.94,"n":37},{"c":"HEK","g":"R","s":"lo","d":1.0,"n":53},{"c":"HEK","g":"R","s":"lo","d":1.06,"n":68},{"c":"HEK","g":"R","s":"lo","d":1.12,"n":79},{"c":"HEK","g":"R","s":"lo","d":1.18,"n":84},{"c":"HEK","g":"R","s":"lo","d":1.23,"n":76},{"c":"HEK","g":"R","s":"lo","d":1.28,"n":67},{"c":"HEK","g":"R","s":"lo","d":1.33,"n":55},{"c":"HEK","g":"R","s":"lo","d":1.39,"n":43},{"c":"HEK","g":"R","s":"lo","d":1.45,"n":33},{"c":"HEK","g":"R","s":"lo","d":1.52,"n":24},{"c":"HEK","g":"R","s":"lo","d":1.6,"n":16},{"c":"HEK","g":"R","s":"lo","d":1.69,"n":9},{"c":"HEK","g":"R","s":"lo","d":1.8,"n":4},{"c":"HEK","g":"R","s":"lo","d":1.92,"n":1},{"c":"HEK","g":"R","s":"lo","d":2.0,"n":0},
      {"c":"HEK","g":"R","s":"mid","d":0.65,"n":0},{"c":"HEK","g":"R","s":"mid","d":0.8,"n":2},{"c":"HEK","g":"R","s":"mid","d":0.9,"n":14},{"c":"HEK","g":"R","s":"mid","d":0.99,"n":34},{"c":"HEK","g":"R","s":"mid","d":1.07,"n":52},{"c":"HEK","g":"R","s":"mid","d":1.15,"n":72},{"c":"HEK","g":"R","s":"mid","d":1.21,"n":80},{"c":"HEK","g":"R","s":"mid","d":1.26,"n":82},{"c":"HEK","g":"R","s":"mid","d":1.31,"n":72},{"c":"HEK","g":"R","s":"mid","d":1.37,"n":58},{"c":"HEK","g":"R","s":"mid","d":1.43,"n":52},{"c":"HEK","g":"R","s":"mid","d":1.49,"n":44},{"c":"HEK","g":"R","s":"mid","d":1.55,"n":33},{"c":"HEK","g":"R","s":"mid","d":1.6,"n":26},{"c":"HEK","g":"R","s":"mid","d":1.68,"n":17},{"c":"HEK","g":"R","s":"mid","d":1.76,"n":10},{"c":"HEK","g":"R","s":"mid","d":1.85,"n":5},{"c":"HEK","g":"R","s":"mid","d":1.95,"n":1},{"c":"HEK","g":"R","s":"mid","d":2.05,"n":0},
      {"c":"HEK","g":"R","s":"hi","d":1.05,"n":0},{"c":"HEK","g":"R","s":"hi","d":1.15,"n":1},{"c":"HEK","g":"R","s":"hi","d":1.21,"n":14},{"c":"HEK","g":"R","s":"hi","d":1.26,"n":32},{"c":"HEK","g":"R","s":"hi","d":1.31,"n":48},{"c":"HEK","g":"R","s":"hi","d":1.35,"n":61},{"c":"HEK","g":"R","s":"hi","d":1.4,"n":74},{"c":"HEK","g":"R","s":"hi","d":1.45,"n":82},{"c":"HEK","g":"R","s":"hi","d":1.5,"n":78},{"c":"HEK","g":"R","s":"hi","d":1.56,"n":75},{"c":"HEK","g":"R","s":"hi","d":1.62,"n":70},{"c":"HEK","g":"R","s":"hi","d":1.68,"n":65},{"c":"HEK","g":"R","s":"hi","d":1.75,"n":55},{"c":"HEK","g":"R","s":"hi","d":1.83,"n":44},{"c":"HEK","g":"R","s":"hi","d":1.92,"n":35},{"c":"HEK","g":"R","s":"hi","d":2.02,"n":26},{"c":"HEK","g":"R","s":"hi","d":2.11,"n":18},{"c":"HEK","g":"R","s":"hi","d":2.21,"n":12},{"c":"HEK","g":"R","s":"hi","d":2.3,"n":7},{"c":"HEK","g":"R","s":"hi","d":2.4,"n":4},{"c":"HEK","g":"R","s":"hi","d":2.5,"n":2},{"c":"HEK","g":"R","s":"hi","d":2.6,"n":0},
      {"c":"HEK","g":"R","s":"ftc","d":1.85,"n":0},{"c":"HEK","g":"R","s":"ftc","d":1.95,"n":1},{"c":"HEK","g":"R","s":"ftc","d":2.02,"n":23},{"c":"HEK","g":"R","s":"ftc","d":2.06,"n":40},{"c":"HEK","g":"R","s":"ftc","d":2.1,"n":58},{"c":"HEK","g":"R","s":"ftc","d":2.16,"n":72},{"c":"HEK","g":"R","s":"ftc","d":2.21,"n":80},{"c":"HEK","g":"R","s":"ftc","d":2.25,"n":84},{"c":"HEK","g":"R","s":"ftc","d":2.3,"n":75},{"c":"HEK","g":"R","s":"ftc","d":2.37,"n":65},{"c":"HEK","g":"R","s":"ftc","d":2.43,"n":55},{"c":"HEK","g":"R","s":"ftc","d":2.48,"n":44},{"c":"HEK","g":"R","s":"ftc","d":2.55,"n":35},{"c":"HEK","g":"R","s":"ftc","d":2.63,"n":26},{"c":"HEK","g":"R","s":"ftc","d":2.71,"n":18},{"c":"HEK","g":"R","s":"ftc","d":2.79,"n":11},{"c":"HEK","g":"R","s":"ftc","d":2.85,"n":5},{"c":"HEK","g":"R","s":"ftc","d":2.9,"n":0}
    ],
    "leg": [
      {"k":"l","s":"none","x1":10,"x2":62,"y":8},
      {"k":"l","s":"ftc","x1":10,"x2":62,"y":42},
      {"k":"l","s":"lo","x1":2,"x2":52,"y":132},
      {"k":"l","s":"mid","x1":2,"x2":52,"y":169},
      {"k":"l","s":"hi","x1":2,"x2":52,"y":207},
      {"k":"l","s":"lo","x1":3,"x2":55,"y":347},
      {"k":"l","s":"mid","x1":3,"x2":55,"y":385},
      {"k":"l","s":"hi","x1":3,"x2":55,"y":422},
      {"k":"l","s":"lo","x1":0,"x2":52,"y":576},
      {"k":"l","s":"mid","x1":0,"x2":52,"y":614},
      {"k":"l","s":"hi","x1":0,"x2":52,"y":652},
      {"k":"u","s":"head","x1":3,"x2":115,"y":103},
      {"k":"u","s":"head","x1":3,"x2":118,"y":319},
      {"k":"u","s":"head","x1":3,"x2":130,"y":548},
      {"k":"t","s":"none","t":"No inhibitor","x1":72,"y":8},
      {"k":"t","s":"ftc","t":"FTC 10 μM","x1":73,"y":42},
      {"k":"t","s":"head","t":"Telmisartan","x1":3,"y":94},
      {"k":"t","s":"lo","t":"0.5 μM","x1":68,"y":132},
      {"k":"t","s":"mid","t":"2 μM","x1":63,"y":169},
      {"k":"t","s":"hi","t":"10 μM","x1":63,"y":207},
      {"k":"t","s":"head","t":"Pioglitazone","x1":3,"y":310},
      {"k":"t","s":"lo","t":"1 μM","x1":64,"y":347},
      {"k":"t","s":"mid","t":"2 μM","x1":64,"y":385},
      {"k":"t","s":"hi","t":"5 μM","x1":64,"y":422},
      {"k":"t","s":"head","t":"Rosiglitazone","x1":3,"y":539},
      {"k":"t","s":"lo","t":"1 μM","x1":62,"y":576},
      {"k":"t","s":"mid","t":"10 μM","x1":62,"y":614},
      {"k":"t","s":"hi","t":"25 μM","x1":62,"y":652}
    ]
  },
  "hconcat": [
    {
      "data": {"name": "hist"},
      "title": {"text": "PhA fluorescence ——►", "orient": "bottom", "anchor": "middle", "font": "DejaVu Sans", "fontSize": 20, "fontWeight": "normal", "color": "#000", "dx": 36, "offset": 14},
      "facet": {
        "row": {"field": "g", "type": "nominal", "sort": ["T", "P", "R"],
          "header": {"labels": false, "title": "Cell number ————►", "titleFont": "Liberation Sans", "titleFontSize": 17, "titleFontWeight": "normal", "titleColor": "#000", "titlePadding": 6}},
        "column": {"field": "c", "type": "nominal", "sort": ["MCF", "HEK"],
          "header": {"title": null, "labelExpr": "datum.value == 'MCF' ? 'MCF-7 FLV1000' : 'HEK293/ABCG2'", "labelFont": "Liberation Sans", "labelFontSize": 19, "labelFontWeight": "bold", "labelColor": "#000", "labelAnchor": "start", "labelPadding": 24}}
      },
      "spacing": {"row": 22, "column": 27},
      "resolve": {"axis": {"x": "independent", "y": "independent"}},
      "spec": {
        "width": 179,
        "height": 192,
        "mark": {"type": "line", "strokeWidth": 1.1, "interpolate": "linear"},
        "encoding": {
          "x": {"field": "d", "type": "quantitative", "scale": {"domain": [0, 4], "nice": false, "zero": false},
            "axis": {"title": null, "values": [0,0.301,0.477,0.602,0.699,0.778,0.845,0.903,0.954,1,1.301,1.477,1.602,1.699,1.778,1.845,1.903,1.954,2,2.301,2.477,2.602,2.699,2.778,2.845,2.903,2.954,3,3.301,3.477,3.602,3.699,3.778,3.845,3.903,3.954,4],
              "labelExpr": "datum.value % 1 == 0 ? '10' + ['⁰','¹','²','³','⁴'][datum.value] : ''", "labelFontSize": 6, "tickSize": 2, "labelPadding": 1, "labelOverlap": false}},
          "y": {"field": "n", "type": "quantitative", "scale": {"domain": [0, 100], "nice": false},
            "axis": {"title": null, "values": [0, 25, 50, 75, 100], "labelExpr": "datum.value == 0 || datum.value == 100 ? datum.label : ''", "labelAngle": -90, "labelFontSize": 5, "tickSize": 2, "labelPadding": 1}},
          "color": {"field": "s", "type": "nominal", "legend": null,
            "scale": {"domain": ["none", "ftc", "lo", "mid", "hi", "head"], "range": ["#000000", "#ff2020", "#a3228f", "#4b5bb0", "#5fbf35", "#000000"]}}
        }
      }
    },
    {
      "width": 186,
      "height": 700,
      "data": {"name": "leg"},
      "layer": [
        {
          "transform": [{"filter": "datum.k == 'l'"}],
          "mark": {"type": "rule", "strokeWidth": 2},
          "encoding": {
            "x": {"field": "x1", "type": "quantitative", "scale": {"domain": [13, 199], "nice": false, "zero": false}, "axis": null},
            "x2": {"field": "x2"},
            "y": {"field": "y", "type": "quantitative", "scale": {"domain": [47, 747], "nice": false, "zero": false, "reverse": true}, "axis": null},
            "color": {"field": "s", "type": "nominal", "legend": null,
              "scale": {"domain": ["none", "ftc", "lo", "mid", "hi", "head"], "range": ["#000000", "#ff2020", "#a3228f", "#4b5bb0", "#5fbf35", "#000000"]}}
          }
        },
        {
          "transform": [{"filter": "datum.k == 'u'"}],
          "mark": {"type": "rule", "strokeWidth": 1.5, "color": "#222"},
          "encoding": {
            "x": {"field": "x1", "type": "quantitative"},
            "x2": {"field": "x2"},
            "y": {"field": "y", "type": "quantitative"}
          }
        },
        {
          "transform": [{"filter": "datum.k == 't'"}],
          "mark": {"type": "text", "align": "left", "baseline": "middle", "font": "DejaVu Sans", "fontSize": 19},
          "encoding": {
            "x": {"field": "x1", "type": "quantitative"},
            "y": {"field": "y", "type": "quantitative"},
            "text": {"field": "t"},
            "color": {"field": "s", "type": "nominal", "legend": null}
          }
        }
      ]
    }
  ]
}
